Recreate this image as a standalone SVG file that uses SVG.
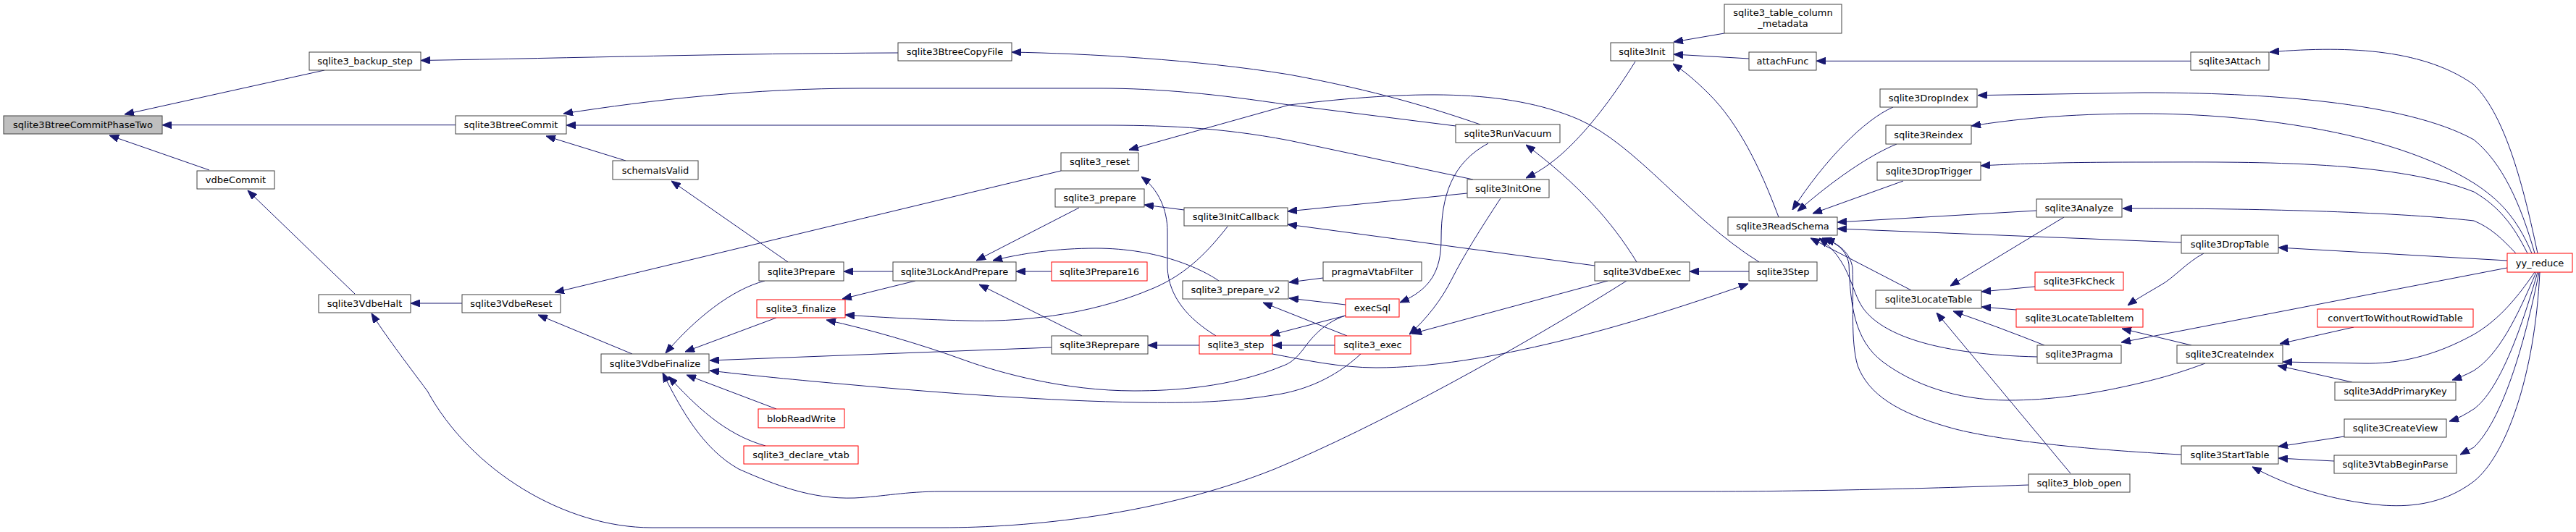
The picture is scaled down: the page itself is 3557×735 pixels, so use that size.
<svg xmlns="http://www.w3.org/2000/svg" width="3557" height="735" viewBox="0 0 3557 735">
<defs>
<style>
.n rect{fill:#fff;stroke:#404040;stroke-width:1}
.r rect{fill:#fff;stroke:#ff0000;stroke-width:1}
.root rect{fill:#bfbfbf;stroke:#404040;stroke-width:1}
text{font-family:"DejaVu Sans","Liberation Sans",sans-serif;font-size:13px;fill:#000;text-anchor:middle}
.e path{fill:none;stroke:#191970;stroke-width:1;marker-end:url(#ah)}
</style>
<marker id="ah" viewBox="0 0 13 10" refX="13" refY="5" markerWidth="13" markerHeight="10" markerUnits="userSpaceOnUse" orient="auto">
<path d="M0,0 L13,5 L0,10 Z" fill="#191970" stroke="#191970"/>
</marker>
</defs>
<rect width="3557" height="735" fill="#fff"/>
<g id="connectors" class="e">
<path d="M448,97 L172,158"/>
<path d="M629,172.7 L224,172.7"/>
<path d="M289,235 L151,187"/>
<path d="M490,406 L342,263"/>
<path d="M638,419 L567,419"/>
<path d="M2246,388 C2100,480 1900,590 1760,648 C1600,712 1420,729 1300,729 L900,729 C780,729 650,650 590,540 C560,500 530,460 513,433"/>
<path d="M1465,236 L766,404"/>
<path d="M873,489 L743,435"/>
<path d="M864,222 L754,188"/>
<path d="M1088,362 L927,250"/>
<path d="M2010,174 L1780,145 C1680,130 1600,122 1520,122 L1190,122 C1040,122 900,138 778,157"/>
<path d="M2034,248 L1780,194 C1680,175 1600,173 1520,173 L782,173"/>
<path d="M2044,172 C1980,150 1900,125 1780,103 C1650,82 1500,74 1397,72"/>
<path d="M1240,73 C1000,74 800,80 581,83.5"/>
<path d="M1264,388 L1163,413"/>
<path d="M1695,313 C1670,345 1640,378 1593,398 C1500,438 1400,445 1333,443 C1260,441 1210,438 1167,435"/>
<path d="M1858,436 C1830,445 1812,465 1800,482 C1790,495 1782,502 1770,506 C1700,535 1620,540 1566,540 C1470,540 1380,515 1333,498 C1270,475 1200,455 1141,442"/>
<path d="M1452,480 L980,498"/>
<path d="M1879,489 C1840,525 1800,538 1770,544 C1700,556 1640,557 1574,556 C1450,554 1300,543 1180,532 C1100,525 1030,518 980,512"/>
<path d="M1056,388 C1010,400 960,440 919,488"/>
<path d="M1072,439 L946,486"/>
<path d="M1072,565 L948,518"/>
<path d="M1057,616 C1000,600 960,560 923,520"/>
<path d="M2801,670 C2600,677 2450,679 2360,679 L1300,679 C1250,679 1220,686 1180,688 C1120,690 1070,670 1020,648 C970,620 940,565 915,515"/>
<path d="M1233,375 L1165,375"/>
<path d="M1452,375 L1403,375"/>
<path d="M1494,464 L1352,393"/>
<path d="M1490,287 L1348,360"/>
<path d="M1683,388 C1660,372 1600,343 1513,343 C1460,343 1410,350 1371,360"/>
<path d="M1635,290 L1580,283"/>
<path d="M1656,477 L1585,477"/>
<path d="M1679,464 C1640,440 1614,410 1612,370 L1612,320 C1612,290 1600,262 1576,244"/>
<path d="M2429,362 C2330,300 2260,200 2180,165 C2080,122 1950,125 1780,145 L1559,207"/>
<path d="M1827,384 L1780,390"/>
<path d="M1858,421 L1780,412"/>
<path d="M1860,464 L1744,418"/>
<path d="M1858,436 L1754,463"/>
<path d="M1843,477 L1757,477"/>
<path d="M1757,489 C1800,497 1850,508 1900,508 C2050,508 2250,450 2414,392"/>
<path d="M2415,375 L2333,375"/>
<path d="M2055,198 C2005,225 1990,270 1990,330 C1990,375 1975,400 1933,418"/>
<path d="M2260,362 C2225,305 2180,255 2107,200"/>
<path d="M2258,85 C2230,130 2200,170 2170,200 C2150,220 2130,235 2107,246"/>
<path d="M2072,274 C2045,315 2020,355 2005,385 C1990,415 1970,440 1946,462"/>
<path d="M2220,388 L1950,461"/>
<path d="M2026,267 L1778,292"/>
<path d="M2202,367 L1778,310"/>
<path d="M2381,46 L2311,58"/>
<path d="M2415,81 L2311,75"/>
<path d="M2456,300 C2430,230 2400,170 2360,130 C2340,110 2325,98 2310,88"/>
<path d="M3025,84.3 L2508,84.3"/>
<path d="M2614,148 C2575,165 2520,220 2475,290"/>
<path d="M2619,199 C2580,215 2530,250 2482,292"/>
<path d="M2628,250 L2503,295"/>
<path d="M2812,291 L2537,307"/>
<path d="M3012,335 L2537,316"/>
<path d="M2639,401 L2500,329"/>
<path d="M2813,493 C2680,490 2600,465 2572,425 C2555,400 2555,360 2512,329"/>
<path d="M3045,502 C3010,515 2985,522 2960,528 C2890,545 2830,553 2773,553 C2700,553 2640,530 2600,500 C2560,470 2555,420 2553,365 C2550,345 2535,335 2516,329"/>
<path d="M3012,628 C2990,627 2975,626 2960,625 C2850,618 2740,605 2690,590 C2620,570 2580,545 2565,505 C2555,470 2560,420 2558,370 C2555,350 2540,337 2520,330"/>
<path d="M2850,300 L2693,395"/>
<path d="M2810,396 L2736,403"/>
<path d="M2784,428 L2736,424"/>
<path d="M2823,477 C2780,460 2740,445 2697,430"/>
<path d="M2859,654 L2674,432"/>
<path d="M3043,350 C3020,362 3000,385 2985,393 C2965,405 2950,413 2938,422"/>
<path d="M3026,477 L2930,454"/>
<path d="M3462,370 L2929,473"/>
<path d="M3250,452 L3148,475"/>
<path d="M3500,376 C3470,420 3445,445 3416,462 C3360,493 3310,503 3263,502 L3152,500"/>
<path d="M3248,528 L3145,505"/>
<path d="M3502,376 C3475,440 3450,490 3416,512 C3405,518 3395,522 3386,525"/>
<path d="M3504,376 C3480,460 3450,540 3416,565 C3405,572 3395,578 3382,582"/>
<path d="M3506,376 C3485,480 3455,580 3416,618 L3397,628"/>
<path d="M3507,376 C3500,520 3460,630 3416,665 C3370,700 3320,700 3290,698 C3220,692 3160,672 3110,645"/>
<path d="M3237,603 L3146,617"/>
<path d="M3223,637 L3146,633"/>
<path d="M3462,360 L3146,342"/>
<path d="M3474,350 C3455,330 3440,315 3416,305 C3300,292 3100,288 2960,288 L2931,288"/>
<path d="M3504,350 C3485,260 3460,160 3416,117 C3350,70 3250,62 3134,72"/>
<path d="M3500,350 C3480,280 3455,225 3416,193 C3320,140 3120,128 2960,128 L2731,131.7"/>
<path d="M3496,350 C3475,300 3450,275 3416,253 C3300,180 3100,157 2960,157 C2850,157 2780,165 2722,174"/>
<path d="M3490,350 C3470,310 3450,285 3416,265 C3300,220 3100,224 2960,224 C2850,224 2790,226 2735,229"/>
</g>
<g id="n1" class="root"><rect x="5" y="160" width="219" height="25"/><text x="114.5" y="177">sqlite3BtreeCommitPhaseTwo</text></g>
<g id="n2" class="n"><rect x="427" y="72" width="154" height="25"/><text x="504" y="89">sqlite3_backup_step</text></g>
<g id="n3" class="n"><rect x="272" y="236" width="107" height="25"/><text x="325.5" y="253">vdbeCommit</text></g>
<g id="n4" class="n"><rect x="440" y="407" width="127" height="25"/><text x="503.5" y="424">sqlite3VdbeHalt</text></g>
<g id="n5" class="n"><rect x="629" y="160" width="153" height="25"/><text x="705.5" y="177">sqlite3BtreeCommit</text></g>
<g id="n6" class="n"><rect x="846" y="222" width="118" height="26"/><text x="905" y="239.5">schemaIsValid</text></g>
<g id="n7" class="n"><rect x="638" y="407" width="136" height="25"/><text x="706" y="424">sqlite3VdbeReset</text></g>
<g id="n8" class="n"><rect x="830" y="489" width="149" height="26"/><text x="904.5" y="506.5">sqlite3VdbeFinalize</text></g>
<g id="n9" class="n"><rect x="1048" y="362" width="117" height="26"/><text x="1106.5" y="379.5">sqlite3Prepare</text></g>
<g id="n10" class="r"><rect x="1045" y="414" width="122" height="25"/><text x="1106" y="431">sqlite3_finalize</text></g>
<g id="n11" class="r"><rect x="1047" y="565" width="119" height="26"/><text x="1106.5" y="582.5">blobReadWrite</text></g>
<g id="n12" class="r"><rect x="1027" y="616" width="158" height="25"/><text x="1106" y="633">sqlite3_declare_vtab</text></g>
<g id="n13" class="n"><rect x="1240" y="59" width="157" height="25"/><text x="1318.5" y="76">sqlite3BtreeCopyFile</text></g>
<g id="n14" class="n"><rect x="1465" y="211" width="107" height="25"/><text x="1518.5" y="228">sqlite3_reset</text></g>
<g id="n15" class="n"><rect x="1457" y="261" width="123" height="25"/><text x="1518.5" y="278">sqlite3_prepare</text></g>
<g id="n16" class="n"><rect x="1635" y="287" width="143" height="25"/><text x="1706.5" y="304">sqlite3InitCallback</text></g>
<g id="n17" class="n"><rect x="1233" y="362" width="170" height="26"/><text x="1318" y="379.5">sqlite3LockAndPrepare</text></g>
<g id="n18" class="r"><rect x="1452" y="362" width="132" height="26"/><text x="1518" y="379.5">sqlite3Prepare16</text></g>
<g id="n19" class="n"><rect x="1633" y="388" width="146" height="25"/><text x="1706" y="405">sqlite3_prepare_v2</text></g>
<g id="n20" class="n"><rect x="1452" y="464" width="133" height="25"/><text x="1518.5" y="481">sqlite3Reprepare</text></g>
<g id="n21" class="r"><rect x="1656" y="464" width="101" height="25"/><text x="1706.5" y="481">sqlite3_step</text></g>
<g id="n22" class="n"><rect x="2010" y="172" width="144" height="25"/><text x="2082" y="189">sqlite3RunVacuum</text></g>
<g id="n23" class="n"><rect x="2026" y="248" width="113" height="25"/><text x="2082.5" y="265">sqlite3InitOne</text></g>
<g id="n24" class="n"><rect x="2224" y="59" width="87" height="25"/><text x="2267.5" y="76">sqlite3Init</text></g>
<g id="n25" class="n"><rect x="1827" y="362" width="136" height="26"/><text x="1895" y="379.5">pragmaVtabFilter</text></g>
<g id="n26" class="r"><rect x="1858" y="413" width="74" height="25"/><text x="1895" y="430">execSql</text></g>
<g id="n27" class="r"><rect x="1843" y="464" width="105" height="25"/><text x="1895.5" y="481">sqlite3_exec</text></g>
<g id="n28" class="n"><rect x="2202" y="362" width="131" height="26"/><text x="2267.5" y="379.5">sqlite3VdbeExec</text></g>
<g id="n29" class="n"><rect x="2381" y="6" width="162" height="40"/><text x="2462" y="22">sqlite3_table_column</text><text x="2462" y="37">_metadata</text></g>
<g id="n30" class="n"><rect x="2415" y="72" width="93" height="25"/><text x="2461.5" y="89">attachFunc</text></g>
<g id="n31" class="n"><rect x="2596" y="123" width="134" height="25"/><text x="2663" y="140">sqlite3DropIndex</text></g>
<g id="n32" class="n"><rect x="2604" y="173" width="118" height="26"/><text x="2663" y="190.5">sqlite3Reindex</text></g>
<g id="n33" class="n"><rect x="2592" y="224" width="143" height="25"/><text x="2663.5" y="241">sqlite3DropTrigger</text></g>
<g id="n34" class="n"><rect x="2812" y="275" width="118" height="25"/><text x="2871" y="292">sqlite3Analyze</text></g>
<g id="n35" class="n"><rect x="2386" y="300" width="151" height="25"/><text x="2461.5" y="317">sqlite3ReadSchema</text></g>
<g id="n36" class="n"><rect x="2415" y="362" width="94" height="26"/><text x="2462" y="379.5">sqlite3Step</text></g>
<g id="n37" class="n"><rect x="2590" y="401" width="146" height="25"/><text x="2663" y="418">sqlite3LocateTable</text></g>
<g id="n38" class="r"><rect x="2810" y="376" width="122" height="25"/><text x="2871" y="393">sqlite3FkCheck</text></g>
<g id="n39" class="r"><rect x="2784" y="427" width="175" height="25"/><text x="2871.5" y="444">sqlite3LocateTableItem</text></g>
<g id="n40" class="n"><rect x="2813" y="477" width="116" height="25"/><text x="2871" y="494">sqlite3Pragma</text></g>
<g id="n41" class="n"><rect x="2801" y="655" width="140" height="25"/><text x="2871" y="672">sqlite3_blob_open</text></g>
<g id="n42" class="n"><rect x="3025" y="72" width="108" height="25"/><text x="3079" y="89">sqlite3Attach</text></g>
<g id="n43" class="n"><rect x="3012" y="325" width="134" height="25"/><text x="3079" y="342">sqlite3DropTable</text></g>
<g id="n44" class="r"><rect x="3462" y="350" width="90" height="26"/><text x="3507" y="367.5">yy_reduce</text></g>
<g id="n45" class="r"><rect x="3200" y="427" width="215" height="25"/><text x="3307.5" y="444">convertToWithoutRowidTable</text></g>
<g id="n46" class="n"><rect x="3006" y="477" width="146" height="25"/><text x="3079" y="494">sqlite3CreateIndex</text></g>
<g id="n47" class="n"><rect x="3224" y="528" width="167" height="25"/><text x="3307.5" y="545">sqlite3AddPrimaryKey</text></g>
<g id="n48" class="n"><rect x="3237" y="579" width="141" height="25"/><text x="3307.5" y="596">sqlite3CreateView</text></g>
<g id="n49" class="n"><rect x="3012" y="616" width="134" height="25"/><text x="3079" y="633">sqlite3StartTable</text></g>
<g id="n50" class="n"><rect x="3223" y="629" width="169" height="25"/><text x="3307.5" y="646">sqlite3VtabBeginParse</text></g>
</svg>
